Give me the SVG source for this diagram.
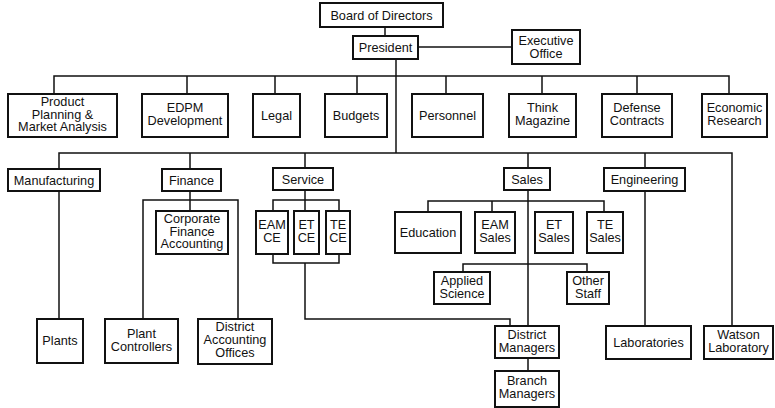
<svg xmlns="http://www.w3.org/2000/svg" width="775" height="408" viewBox="0 0 775 408">
<style>
.b{fill:#fff;stroke:#111;stroke-width:2}
.c{fill:none;stroke:#111;stroke-width:1.5}
text{font-family:"Liberation Sans",Arial,sans-serif;font-size:12.7px;fill:#111;text-anchor:middle}
</style>
<rect width="775" height="408" fill="#fff"/>
<g id="connectors" class="c">
<path d="M385,27V36"/>
<path d="M418,47H512"/>
<path d="M396,59V153"/>
<path d="M54,94V76H729V94M187,76V94M275,76V94M357,76V94M446,76V94M542,76V94M637,76V94"/>
<path d="M59,169V153H732V326M190,153V169M305,153V168M528,153V168M645,153V168"/>
<path d="M59,191V319"/>
<path d="M190,191V211M143,319V200H238V319"/>
<path d="M305,190V211M273,211V200H339V211M273,254V263H339V254M305,263V319H510V326"/>
<path d="M528,190V326M428,212V201H604V212M492,201V212M463,272V264H587V272M528,358V371"/>
<path d="M645,191V326"/>
</g>
<g id="board"><rect class="b" x="320" y="3" width="123" height="24"/><text x="381.5" y="19.5">Board of Directors</text></g>
<g id="president"><rect class="b" x="353" y="36" width="65" height="23"/><text x="385.5" y="52">President</text></g>
<g id="exec"><rect class="b" x="512" y="30" width="68" height="34"/><text x="546" y="45">Executive<tspan x="546" dy="13">Office</tspan></text></g>
<g id="ppma"><rect class="b" x="8" y="94" width="109" height="43"/><text x="62.5" y="106">Product<tspan x="62.5" dy="12.5">Planning &amp;</tspan><tspan x="62.5" dy="12.5">Market Analysis</tspan></text></g>
<g id="edpm"><rect class="b" x="142" y="94" width="86" height="43"/><text x="185" y="112">EDPM<tspan x="185" dy="13">Development</tspan></text></g>
<g id="legal"><rect class="b" x="253" y="94" width="47" height="43"/><text x="276.5" y="120">Legal</text></g>
<g id="budgets"><rect class="b" x="325" y="94" width="62" height="43"/><text x="356" y="120">Budgets</text></g>
<g id="personnel"><rect class="b" x="412" y="94" width="71" height="43"/><text x="447.5" y="120">Personnel</text></g>
<g id="think"><rect class="b" x="509" y="94" width="67" height="43"/><text x="542.5" y="112">Think<tspan x="542.5" dy="13">Magazine</tspan></text></g>
<g id="defense"><rect class="b" x="602" y="94" width="70" height="43"/><text x="637" y="112">Defense<tspan x="637" dy="13">Contracts</tspan></text></g>
<g id="econ"><rect class="b" x="702" y="94" width="65" height="43"/><text x="734.5" y="112">Economic<tspan x="734.5" dy="13">Research</tspan></text></g>
<g id="manufacturing"><rect class="b" x="8" y="169" width="92" height="22"/><text x="54" y="184.5">Manufacturing</text></g>
<g id="finance"><rect class="b" x="162" y="169" width="59" height="22"/><text x="191.5" y="184.5">Finance</text></g>
<g id="service"><rect class="b" x="273" y="168" width="60" height="22"/><text x="303" y="183.5">Service</text></g>
<g id="sales"><rect class="b" x="504" y="168" width="46" height="22"/><text x="527" y="183.5">Sales</text></g>
<g id="engineering"><rect class="b" x="604" y="168" width="81" height="23"/><text x="644.5" y="183.5">Engineering</text></g>
<g id="corpfin"><rect class="b" x="156" y="211" width="72" height="43"/><text x="192" y="223">Corporate<tspan x="192" dy="12.5">Finance</tspan><tspan x="192" dy="12.5">Accounting</tspan></text></g>
<g id="eamce"><rect class="b" x="256" y="211" width="32" height="43"/><text x="272" y="229">EAM<tspan x="272" dy="13">CE</tspan></text></g>
<g id="etce"><rect class="b" x="294" y="211" width="25" height="43"/><text x="306.5" y="229">ET<tspan x="306.5" dy="13">CE</tspan></text></g>
<g id="tece"><rect class="b" x="326" y="211" width="24" height="43"/><text x="338" y="229">TE<tspan x="338" dy="13">CE</tspan></text></g>
<g id="education"><rect class="b" x="395" y="212" width="66" height="41"/><text x="428" y="237">Education</text></g>
<g id="eamsales"><rect class="b" x="475" y="212" width="40" height="41"/><text x="495" y="229">EAM<tspan x="495" dy="13">Sales</tspan></text></g>
<g id="etsales"><rect class="b" x="535" y="212" width="38" height="41"/><text x="554" y="229">ET<tspan x="554" dy="13">Sales</tspan></text></g>
<g id="tesales"><rect class="b" x="587" y="212" width="36" height="41"/><text x="605" y="229">TE<tspan x="605" dy="13">Sales</tspan></text></g>
<g id="applied"><rect class="b" x="434" y="272" width="56" height="32"/><text x="462" y="285">Applied<tspan x="462" dy="13">Science</tspan></text></g>
<g id="otherstaff"><rect class="b" x="567" y="272" width="42" height="32"/><text x="588" y="285">Other<tspan x="588" dy="13">Staff</tspan></text></g>
<g id="plants"><rect class="b" x="37" y="319" width="46" height="44"/><text x="60" y="345">Plants</text></g>
<g id="plantctrl"><rect class="b" x="105" y="319" width="73" height="44"/><text x="141.5" y="338">Plant<tspan x="141.5" dy="13">Controllers</tspan></text></g>
<g id="distacct"><rect class="b" x="198" y="319" width="74" height="45"/><text x="235" y="331">District<tspan x="235" dy="13">Accounting</tspan><tspan x="235" dy="13">Offices</tspan></text></g>
<g id="distmgr"><rect class="b" x="495" y="326" width="64" height="32"/><text x="527" y="339">District<tspan x="527" dy="13">Managers</tspan></text></g>
<g id="branchmgr"><rect class="b" x="495" y="371" width="64" height="36"/><text x="527" y="385">Branch<tspan x="527" dy="13">Managers</tspan></text></g>
<g id="labs"><rect class="b" x="606" y="326" width="85" height="33"/><text x="648.5" y="347">Laboratories</text></g>
<g id="watson"><rect class="b" x="704" y="326" width="69" height="33"/><text x="738.5" y="339">Watson<tspan x="738.5" dy="13">Laboratory</tspan></text></g>
</svg>
